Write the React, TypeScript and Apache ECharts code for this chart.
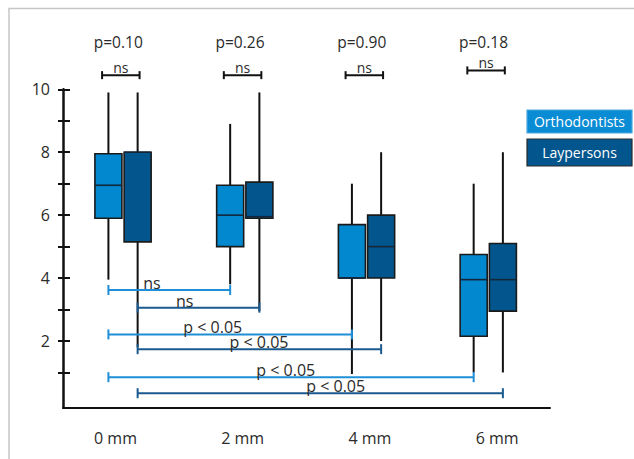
import React, { useEffect, useRef } from "react";
import * as echarts from "echarts";

// ---------------- data ----------------
const categories = ["0 mm", "2 mm", "4 mm", "6 mm"];
const groupNames = ["Orthodontists", "Laypersons"];
// [min, Q1, median, Q3, max]
const orthodontists = [
  [3.95, 5.9, 6.95, 7.95, 9.9],
  [3.8, 5.0, 6.0, 6.95, 8.9],
  [0.95, 4.0, 4.0, 5.7, 7.0],
  [1.0, 2.15, 3.95, 4.75, 7.0],
];
const laypersons = [
  [1.8, 5.15, 8.0, 8.0, 9.9],
  [2.95, 5.9, 5.95, 7.05, 9.9],
  [2.0, 4.0, 5.0, 6.0, 8.0],
  [1.0, 2.95, 3.95, 5.1, 8.0],
];
const pairPValues = ["p=0.10", "p=0.26", "p=0.90", "p=0.18"];
const pairTestLabels = ["ns", "ns", "ns", "ns"];
const pairBracketLevels = [10.45, 10.45, 10.45, 10.6];
const pLabelLevel = 11.5;
// comparisons within a group between 0 mm and other distances
const compGroup = [0, 1, 0, 1, 0, 1];
const compFrom = [0, 0, 0, 0, 0, 0];
const compTo = [1, 1, 2, 2, 3, 3];
const compLevels = [3.62, 3.06, 2.21, 1.74, 0.85, 0.34];
const compLabels = ["ns", "ns", "p < 0.05", "p < 0.05", "p < 0.05", "p < 0.05"];
const yTickValues = [1, 2, 3, 4, 5, 6, 7, 8, 9, 10];
const yLabelValues = [2, 4, 6, 8, 10];

// ---------------- layout / style ----------------
const FONT = '"Open Sans", "Noto Sans", sans-serif';
const TEXT = "#2b2b2b";
const BOX_COLORS = ["#0288CE", "#02568D"];
const BRACKET_COLORS = ["#1E8FD6", "#1B5A8E"];
const BOX_OFFSET = [-0.127, 0.113];
const BOX_WIDTH = 0.222;
const LABEL_AT = [0.23, 0.5, 0.73, 1.11, 1.33, 1.74];
const TOP_BRACKET_SHIFT = -0.025;
const TOP_BRACKET_HALF = 0.154;
const P_LABEL_SHIFT = -0.046;
const Y_MIN = -0.12;
const Y_MAX = 10;

function boxSeries(g: number, rows: number[][]) {
  return {
    type: "custom",
    name: groupNames[g],
    xAxisIndex: 0,
    yAxisIndex: 0,
    clip: false,
    z: 3,
    data: rows.map((r, i) => [i, ...r]),
    encode: { x: 0, y: [1, 2, 3, 4, 5] },
    renderItem: (params: any, api: any) => {
      const i = api.value(0) as number;
      const bw = api.size([1, 0])[0] as number;
      const cx = api.coord([i + BOX_OFFSET[g], 0])[0];
      const yy = (k: number) => api.coord([i, api.value(k)])[1];
      const yMin = yy(1), yQ1 = yy(2), yMed = yy(3), yQ3 = yy(4), yMax = yy(5);
      const w = bw * BOX_WIDTH;
      const wh = { stroke: "#111", lineWidth: 2 };
      return {
        type: "group",
        children: [
          { type: "line", shape: { x1: cx, y1: yMax, x2: cx, y2: yQ3 }, style: wh },
          { type: "line", shape: { x1: cx, y1: yQ1, x2: cx, y2: yMin }, style: wh },
          {
            type: "rect",
            shape: { x: cx - w / 2, y: yQ3, width: w, height: yQ1 - yQ3 },
            style: { fill: BOX_COLORS[g], stroke: "#1a1a1a", lineWidth: 1.6 },
          },
          {
            type: "line",
            shape: { x1: cx - w / 2, y1: yMed, x2: cx + w / 2, y2: yMed },
            style: { stroke: "#14263a", lineWidth: 1.6 },
          },
        ],
      };
    },
  };
}

const compSeries = {
  type: "custom",
  xAxisIndex: 0,
  yAxisIndex: 0,
  clip: false,
  z: 4,
  data: compLevels.map((lvl, k) => [compFrom[k], compTo[k], lvl, k]),
  encode: { x: [0, 1], y: 2 },
  renderItem: (params: any, api: any) => {
    const k = api.value(3) as number;
    const g = compGroup[k];
    const lvl = api.value(2) as number;
    const p1 = api.coord([(api.value(0) as number) + BOX_OFFSET[g], lvl]);
    const p2 = api.coord([(api.value(1) as number) + BOX_OFFSET[g], lvl]);
    const lp = api.coord([LABEL_AT[k], lvl]);
    const st = { stroke: BRACKET_COLORS[g], lineWidth: 2 };
    return {
      type: "group",
      children: [
        { type: "line", shape: { x1: p1[0], y1: p1[1], x2: p2[0], y2: p2[1] }, style: st },
        { type: "line", shape: { x1: p1[0], y1: p1[1] - 5, x2: p1[0], y2: p1[1] + 5 }, style: st },
        { type: "line", shape: { x1: p2[0], y1: p2[1] - 5, x2: p2[0], y2: p2[1] + 5 }, style: st },
        {
          type: "text",
          x: lp[0],
          y: lp[1] - 7,
          style: {
            text: compLabels[k],
            fill: TEXT,
            font: `16px ${FONT}`,
            align: "center",
            verticalAlign: "middle",
          },
        },
      ],
    };
  },
};

const pairSeries = {
  type: "custom",
  xAxisIndex: 0,
  yAxisIndex: 0,
  clip: false,
  z: 4,
  data: pairBracketLevels.map((lvl, i) => [i, lvl]),
  encode: { x: 0, y: 1 },
  renderItem: (params: any, api: any) => {
    const i = api.value(0) as number;
    const lvl = api.value(1) as number;
    const c = api.coord([i + TOP_BRACKET_SHIFT, lvl]);
    const a = api.coord([i + TOP_BRACKET_SHIFT - TOP_BRACKET_HALF, lvl]);
    const b = api.coord([i + TOP_BRACKET_SHIFT + TOP_BRACKET_HALF, lvl]);
    const pl = api.coord([i + P_LABEL_SHIFT, pLabelLevel]);
    const st = { stroke: "#111", lineWidth: 2 };
    return {
      type: "group",
      children: [
        { type: "line", shape: { x1: a[0], y1: a[1], x2: b[0], y2: b[1] }, style: st },
        { type: "line", shape: { x1: a[0], y1: a[1] - 4, x2: a[0], y2: a[1] + 4 }, style: st },
        { type: "line", shape: { x1: b[0], y1: b[1] - 4, x2: b[0], y2: b[1] + 4 }, style: st },
        {
          type: "text",
          x: c[0],
          y: c[1] - 8,
          style: { text: pairTestLabels[i], fill: TEXT, font: `14px ${FONT}`, align: "center", verticalAlign: "middle" },
        },
        {
          type: "text",
          x: pl[0],
          y: pl[1],
          style: { text: pairPValues[i], fill: TEXT, font: `15.5px ${FONT}`, align: "center", verticalAlign: "middle" },
        },
      ],
    };
  },
};

export default function App() {
  const ref = useRef<HTMLDivElement>(null);
  useEffect(() => {
    if (!ref.current) return;
    const chart = echarts.init(ref.current, null, { renderer: "svg" });
    const legendRects = [
      { y: 110, h: 23, fill: "#0A8CD4", stroke: "#4aa8de" },
      { y: 139, h: 27, fill: "#02568D", stroke: "#2a2a2a" },
    ];
    chart.setOption({
      animation: false,
      backgroundColor: "#ffffff",
      textStyle: { fontFamily: FONT },
      grid: [
        { left: 63, right: 84, top: 89.3, bottom: 51.3 },
        { left: 51.9, right: 73.3, top: 89.3, bottom: 51.3 },
      ],
      xAxis: [
        {
          type: "value",
          gridIndex: 0,
          min: -0.5,
          max: 3.5,
          axisLine: { show: true, onZero: false, lineStyle: { color: "#111", width: 2 } },
          axisTick: { show: false },
          axisLabel: { show: false },
          splitLine: { show: false },
        },
        {
          type: "category",
          gridIndex: 1,
          data: categories,
          boundaryGap: true,
          axisLine: { show: false },
          axisTick: { show: false },
          axisLabel: { margin: 22, fontSize: 16, color: TEXT, fontFamily: FONT },
          splitLine: { show: false },
        },
      ],
      yAxis: [
        {
          type: "value",
          gridIndex: 0,
          position: "left",
          min: Y_MIN,
          max: Y_MAX,
          axisLine: { show: true, onZero: false, lineStyle: { color: "#111", width: 2.5 } },
          axisTick: { show: true, length: 5, customValues: yTickValues, lineStyle: { color: "#111", width: 2 } },
          axisLabel: { customValues: yLabelValues, margin: 13, fontSize: 16, color: TEXT, fontFamily: FONT },
          splitLine: { show: false },
        },
        {
          type: "value",
          gridIndex: 0,
          position: "left",
          min: Y_MIN,
          max: Y_MAX,
          axisLine: { show: false, onZero: false },
          axisTick: { show: true, inside: true, length: 7, customValues: yTickValues, lineStyle: { color: "#111", width: 2 } },
          axisLabel: { show: false },
          splitLine: { show: false },
        },
        { type: "value", gridIndex: 1, show: false, min: Y_MIN, max: Y_MAX },
      ],
      series: [boxSeries(0, orthodontists), boxSeries(1, laypersons), compSeries, pairSeries],
      graphic: [
        {
          type: "polyline",
          shape: { points: [[9, 459], [9, 8.5], [634, 8.5]] },
          style: { stroke: "#c6c6c6", lineWidth: 1.5, fill: "none" },
          silent: true,
        },
        ...legendRects.flatMap((r, g) => [
          {
            type: "rect",
            shape: { x: 527, y: r.y, width: 105, height: r.h },
            style: { fill: r.fill, stroke: r.stroke, lineWidth: 1.2 },
          },
          {
            type: "text",
            x: 579.5,
            y: r.y + r.h / 2,
            style: {
              text: groupNames[g],
              fill: "#ffffff",
              font: `14px ${FONT}`,
              align: "center",
              verticalAlign: "middle",
            },
          },
        ]),
      ],
    });
    return () => chart.dispose();
  }, []);
  return <div ref={ref} style={{ position: "absolute", left: 0, top: 0, width: 634, height: 459 }} />;
}
